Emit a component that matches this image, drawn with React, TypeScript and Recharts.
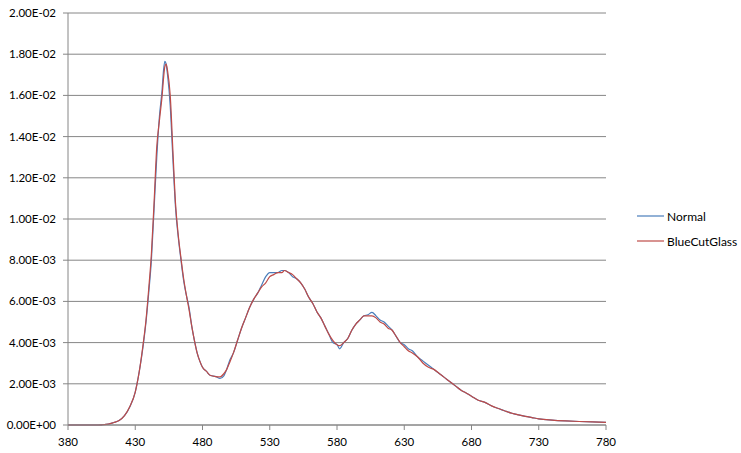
import React from 'react';
import { LineChart, Line, XAxis, YAxis, CartesianGrid } from 'recharts';

// wavelength (nm)
const wavelengths = [
  380, 390, 400, 405, 410, 414, 418, 422, 426, 430, 433, 436, 438, 440, 442, 444, 446, 448, 450, 451,
  452, 453, 454, 456, 458, 460, 462, 464, 466, 468, 470, 472, 474, 476, 478, 480, 483, 486, 490, 493,
  496, 498, 500, 503, 506, 509, 512, 515, 518, 521, 524, 527, 530, 533, 536, 539, 541, 544, 547, 550,
  553, 556, 559, 562, 565, 568, 571, 574, 577, 580, 582, 585, 588, 591, 594, 597, 600, 603, 606, 609,
  612, 615, 618, 621, 624, 627, 630, 633, 636, 640, 644, 648, 652, 656, 660, 664, 668, 672, 676, 680,
  685, 690, 695, 700, 705, 710, 715, 720, 725, 730, 740, 750, 760, 770, 780,
];

const normal = [
  0, 0, 0, 0.00001, 0.00004, 0.00012, 0.00022, 0.00045, 0.00089, 0.0016, 0.0026, 0.0039, 0.005, 0.0064, 0.008, 0.0105, 0.013, 0.015, 0.0163, 0.0172,
  0.01765, 0.0175, 0.017, 0.0155, 0.0129, 0.0105, 0.0091, 0.008, 0.007, 0.0063, 0.0057, 0.0048, 0.0041, 0.0035, 0.0031, 0.0028, 0.0026, 0.0024, 0.00235, 0.00226,
  0.0024, 0.0027, 0.0031, 0.0035, 0.0041, 0.0047, 0.0052, 0.0057, 0.0061, 0.0064, 0.0068, 0.0072, 0.0074, 0.0074, 0.0074, 0.0075, 0.0075, 0.0074, 0.0072, 0.0071,
  0.0069, 0.0066, 0.0062, 0.0059, 0.0055, 0.0052, 0.0048, 0.0044, 0.004, 0.0039, 0.0037, 0.004, 0.0042, 0.0046, 0.0049, 0.0051, 0.0053, 0.00535, 0.00547, 0.0053,
  0.0051, 0.005, 0.0048, 0.0046, 0.0043, 0.004, 0.0039, 0.0037, 0.0036, 0.0033, 0.0031, 0.0029, 0.0027, 0.0025, 0.0023, 0.0021, 0.0019, 0.0017, 0.00155, 0.0014,
  0.0012, 0.0011, 0.00092, 0.0008, 0.00068, 0.00057, 0.00049, 0.00042, 0.00036, 0.0003, 0.00024, 0.0002, 0.00017, 0.00015, 0.00013,
];

const blueCutGlass = [
  0, 0, 0, 0.00001, 0.00004, 0.00012, 0.00022, 0.00046, 0.0009, 0.0016, 0.0026, 0.004, 0.0051, 0.0066, 0.0083, 0.0108, 0.0135, 0.0148, 0.016, 0.0168,
  0.0174, 0.01752, 0.0172, 0.016, 0.0133, 0.0107, 0.0092, 0.0081, 0.0071, 0.0063, 0.0056, 0.0048, 0.0041, 0.0035, 0.0031, 0.0028, 0.0026, 0.0024, 0.00235, 0.00234,
  0.0025, 0.0027, 0.003, 0.0035, 0.0041, 0.0047, 0.0052, 0.0057, 0.0061, 0.0064, 0.0067, 0.0069, 0.0072, 0.0073, 0.0074, 0.0074, 0.0075, 0.0074, 0.0073, 0.0071,
  0.0069, 0.0066, 0.0062, 0.0059, 0.0055, 0.0052, 0.0048, 0.0044, 0.0041, 0.0039, 0.00385, 0.004, 0.0042, 0.0046, 0.0049, 0.0051, 0.0053, 0.0053, 0.0053, 0.0052,
  0.005, 0.0049, 0.0047, 0.0046, 0.0043, 0.004, 0.0038, 0.0036, 0.0035, 0.0033, 0.003, 0.0028, 0.0027, 0.0025, 0.0023, 0.0021, 0.0019, 0.0017, 0.00155, 0.0014,
  0.0012, 0.0011, 0.00093, 0.0008, 0.00068, 0.00057, 0.00049, 0.00042, 0.00036, 0.0003, 0.00024, 0.0002, 0.00017, 0.00015, 0.00013,
];

const xTicks = [380, 430, 480, 530, 580, 630, 680, 730, 780];
const yTicks = [0, 0.002, 0.004, 0.006, 0.008, 0.01, 0.012, 0.014, 0.016, 0.018, 0.02];

const data = wavelengths.map((nm, i) => ({ nm, normal: normal[i], blueCutGlass: blueCutGlass[i] }));

const sci = (v: number) => {
  const [m, e] = v.toExponential(2).split('e');
  return `${m}E${e[0]}${e.slice(1).padStart(2, '0')}`;
};

const gridColor = '#868686';
const font = 'Lato, "Open Sans", sans-serif';

export default function App() {
  return (
    <div style={{ position: 'absolute', left: 0, top: 0, width: 741, height: 453, background: '#fff', fontFamily: font }}>
      <LineChart width={741} height={453} data={data} margin={{ top: 13, right: 135, bottom: 0, left: 0 }}>
        <CartesianGrid vertical={false} stroke={gridColor} />
        <XAxis
          dataKey="nm"
          type="number"
          domain={[380, 780]}
          ticks={xTicks}
          height={28}
          stroke={gridColor}
          tickSize={5}
          tickMargin={8}
          tick={{ fontSize: 11.5, fill: '#000', fontFamily: font }}
        />
        <YAxis
          domain={[0, 0.02]}
          ticks={yTicks}
          width={68}
          stroke={gridColor}
          tickSize={5}
          tickMargin={7}
          tickFormatter={sci}
          tick={{ fontSize: 11.5, fill: '#000', fontFamily: font }}
        />
        <Line type="monotone" dataKey="normal" stroke="#4A7EBB" strokeWidth={1.2} dot={false} activeDot={false} isAnimationActive={false} />
        <Line type="monotone" dataKey="blueCutGlass" stroke="#BE4B48" strokeWidth={1.2} dot={false} activeDot={false} isAnimationActive={false} />
      </LineChart>
      {[
        { name: 'Normal', color: '#4A7EBB', y: 216 },
        { name: 'BlueCutGlass', color: '#BE4B48', y: 241 },
      ].map((s) => (
        <div key={s.name} style={{ position: 'absolute', left: 637, top: s.y - 8, height: 16, display: 'flex', alignItems: 'center', fontSize: 12, color: '#000' }}>
          <svg width={27} height={4} style={{ marginRight: 3 }}>
            <line x1={0} y1={2} x2={27} y2={2} stroke={s.color} strokeWidth={1.2} />
          </svg>
          <span>{s.name}</span>
        </div>
      ))}
    </div>
  );
}
